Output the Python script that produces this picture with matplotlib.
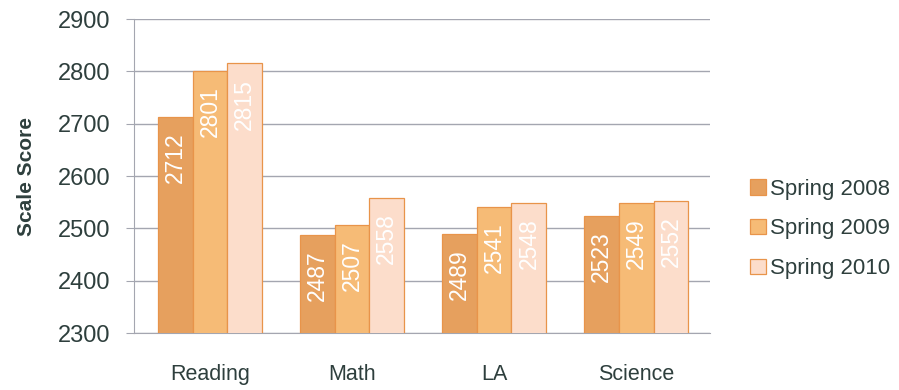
"""Scale score by subject, spring 2008-2010."""

import numpy as np
from matplotlib import pyplot as plt

subjects = ["Reading", "Math", "LA", "Science"]
series = ["Spring 2008", "Spring 2009", "Spring 2010"]
spring_2008 = [2712, 2487, 2489, 2523]
spring_2009 = [2801, 2507, 2541, 2549]
spring_2010 = [2815, 2558, 2548, 2552]

COLORS = ["#E6A05E", "#F6BB76", "#FCDDCB"]
TEXT = "#2E3F3D"
GRID = "#A4A6B0"


def main():
    plt.rcParams["font.family"] = ["Liberation Sans", "DejaVu Sans"]
    fig = plt.figure(figsize=(8.99, 3.9), dpi=100)
    ax = fig.add_axes([134 / 899, 57 / 390, 576 / 899, 314 / 390])

    x = np.arange(len(subjects))
    width = 0.245
    values = [spring_2008, spring_2009, spring_2010]
    for i, (name, vals) in enumerate(zip(series, values)):
        bars = ax.bar(
            x + (i - 1) * width,
            vals,
            width,
            bottom=0,
            color=COLORS[i],
            edgecolor="#E8944A",
            linewidth=0.9,
            label=name,
            zorder=3,
        )
        for bar, v in zip(bars, vals):
            ax.annotate(
                str(v),
                (bar.get_x() + bar.get_width() / 2, v),
                xytext=(0, -11),
                textcoords="offset points",
                rotation=90,
                ha="center",
                va="top",
                color="white",
                fontsize=16.5,
                zorder=4,
            )

    ax.set_ylim(2300, 2900)
    ax.set_xlim(-0.535, 3.52)
    ax.set_yticks(range(2300, 2901, 100))
    ax.set_xticks(x)
    ax.set_xticklabels(subjects)
    ax.yaxis.grid(True, color=GRID, linewidth=1.0, zorder=0)
    for side in ("top", "right"):
        ax.spines[side].set_visible(False)
    for side in ("left", "bottom"):
        ax.spines[side].set_color(GRID)
    ax.tick_params(axis="y", colors=GRID, labelcolor=TEXT, labelsize=17,
                   length=6, direction="out", pad=11)
    ax.tick_params(axis="x", length=0, labelcolor=TEXT, labelsize=15.5, pad=22)
    ax.set_ylabel("Scale Score", color=TEXT, fontsize=15, fontweight="bold",
                  labelpad=16)

    fig.legend(
        loc="center left",
        bbox_to_anchor=(0.812, 0.413),
        frameon=False,
        fontsize=16,
        labelcolor=TEXT,
        handlelength=0.7,
        handleheight=0.7,
        handletextpad=0.2,
        labelspacing=0.85,
    )

    fig.savefig("out.png", dpi=100, facecolor="white")


if __name__ == "__main__":
    main()
